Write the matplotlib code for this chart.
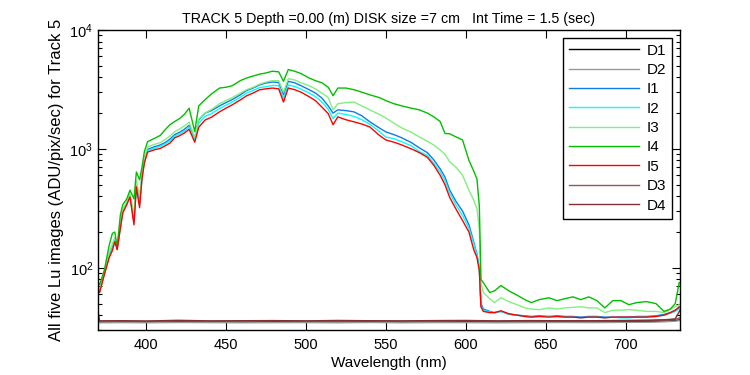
import numpy as np
import matplotlib
matplotlib.use('Agg')
import matplotlib.pyplot as plt

plt.rcParams['font.family'] = ['Liberation Sans', 'DejaVu Sans']
plt.rcParams['font.size'] = 10

# longueurs d'onde (nm) des spectres I1..I5
wl = [370, 371, 374, 377, 379, 380.5, 382, 384, 385.5, 388,
      390, 392.5, 394, 396, 397.5, 399, 401, 405, 409, 412,
      415, 418, 421, 424, 427, 430.5, 433, 437, 441, 446,
      450, 454, 459, 463, 467, 471, 475, 479, 483, 486,
      489, 493, 497, 502, 506, 510, 514, 517, 520, 525,
      530, 535, 540, 546, 550, 555, 560, 566, 571, 576,
      580, 584, 587, 590, 594, 598, 602, 605, 607, 608.5,
      609.5, 611, 615, 618, 622, 627, 632, 637, 641, 646,
      652, 657, 662, 667, 672, 677, 682, 687, 692, 697,
      702, 707, 713, 719, 724, 728, 731, 733.5]

I1 = [68, 64, 90, 128, 148, 172, 146, 225, 300, 350,
      410, 250, 510, 350, 590, 800, 990, 1040, 1080, 1130,
      1210, 1320, 1380, 1460, 1580, 1220, 1750, 2000, 2100, 2300,
      2450, 2600, 2850, 3100, 3250, 3450, 3580, 3650, 3620, 2850,
      3700, 3600, 3400, 3150, 2950, 2680, 2300, 2000, 2130, 2100,
      2050, 1900, 1690, 1500, 1390, 1320, 1240, 1130, 1020, 930,
      810, 680, 580, 450, 360, 300, 230, 165, 130, 100,
      50, 45, 43, 42, 43, 41, 40, 39.5, 39, 39.5,
      39, 39.5, 39, 39, 38.5, 39, 39, 38.5, 38.5, 38.5,
      38.5, 39, 39, 39.5, 40.5, 42, 44, 46]

I2 = [67, 63, 89, 125, 144, 169, 144, 220, 295, 345,
      400, 240, 495, 335, 575, 780, 965, 1010, 1050, 1100,
      1170, 1280, 1340, 1410, 1520, 1180, 1640, 1880, 1980, 2180,
      2330, 2480, 2720, 2950, 3100, 3280, 3330, 3420, 3400, 2650,
      3450, 3350, 3180, 2950, 2750, 2480, 2150, 1800, 2000, 1950,
      1880, 1760, 1610, 1400, 1260, 1220, 1150, 1060, 950, 880,
      760, 640, 540, 425, 335, 275, 215, 160, 128, 98,
      48, 44, 42.5, 42, 43, 40.5, 40, 39, 38.5, 39,
      39, 39, 38.5, 38.5, 38, 38.5, 38.5, 38, 38.5, 38,
      38, 38.5, 38.5, 39, 40, 41.5, 43, 45]

I3 = [70, 66, 92, 135, 160, 180, 150, 240, 310, 360,
      420, 280, 540, 400, 620, 840, 1040, 1090, 1130, 1200,
      1280, 1400, 1470, 1560, 1680, 1250, 1780, 2000, 2150, 2400,
      2550, 2700, 2950, 3150, 3300, 3500, 3650, 3750, 3750, 3000,
      3900, 3800, 3600, 3400, 3200, 2950, 2700, 2130, 2400, 2450,
      2480, 2300, 2130, 1950, 1820, 1650, 1500, 1380, 1260, 1160,
      1080, 980, 900, 780, 700, 600, 450, 370, 315, 210,
      75, 62, 55, 51, 56, 52, 49, 46, 45, 44.5,
      46, 45, 46, 46.5, 47, 46, 46, 42, 44, 44,
      44.5, 44, 43, 43, 42, 45, 47, 49]

I4 = [76, 72, 96, 155, 195, 200, 150, 280, 340, 380,
      450, 380, 640, 550, 700, 950, 1150, 1220, 1300, 1450,
      1600, 1700, 1800, 1950, 2200, 1400, 2300, 2600, 2900, 3250,
      3300, 3400, 3750, 3950, 4100, 4250, 4350, 4500, 4450, 3700,
      4650, 4500, 4300, 3950, 3750, 3600, 3300, 2800, 3250, 3250,
      3150, 3000, 2850, 2700, 2550, 2400, 2300, 2200, 2130, 2000,
      1860, 1700, 1350, 1340, 1260, 1190, 800, 650, 560, 330,
      80, 75, 62, 64, 71, 64, 59, 54, 51, 54,
      56, 53, 55, 57, 54, 57, 53, 46, 53, 53,
      49, 51, 52, 50, 43, 45, 50, 75]

I5 = [66, 62, 88, 122, 140, 166, 142, 215, 290, 340,
      395, 230, 480, 320, 560, 760, 940, 980, 1010, 1060,
      1120, 1240, 1290, 1360, 1460, 1140, 1520, 1750, 1850, 2050,
      2200, 2350, 2580, 2800, 2950, 3140, 3200, 3250, 3200, 2480,
      3250, 3150, 3000, 2750, 2550, 2250, 1980, 1600, 1860, 1760,
      1690, 1620, 1530, 1300, 1190, 1140, 1080, 1000, 930, 850,
      730, 600, 500, 390, 310, 250, 200, 142, 122, 95,
      47, 43, 42, 42, 43.5, 41, 40, 39, 38.5, 39,
      38.5, 39, 38.5, 38.5, 38, 38.5, 38.5, 38, 38.5, 38.5,
      38.5, 38.5, 38.5, 39, 40, 42, 44, 47]

# images de noir D1..D4
dwl = [370, 371, 385, 400, 420, 440, 460, 480, 500, 520, 540, 560,
       580, 600, 620, 640, 660, 680, 700, 715, 725, 731, 734]
D1 = [35.5, 34.8, 35.0, 34.9, 35.1, 35.0, 34.9, 35.1, 35.0, 35.0, 35.1, 34.9,
      35.0, 35.1, 35.0, 35.0, 35.1, 35.0, 35.2, 35.3, 35.6, 36.0, 36.5]
D2 = [35.0, 34.5, 34.6, 34.5, 34.7, 34.6, 34.5, 34.6, 34.6, 34.5, 34.7, 34.5,
      34.6, 34.6, 34.5, 34.6, 34.7, 34.6, 34.8, 34.9, 35.2, 35.6, 36.0]
D3 = [36.5, 35.6, 35.8, 35.5, 35.9, 35.6, 35.7, 35.9, 35.6, 35.7, 35.8, 35.6,
      35.7, 35.9, 35.6, 35.8, 35.7, 35.7, 35.9, 36.0, 36.3, 36.8, 38.0]
D4 = [43.0, 35.8, 35.9, 35.7, 36.2, 35.8, 35.9, 36.0, 35.8, 36.1, 35.9, 35.8,
      36.0, 36.1, 35.8, 36.0, 35.9, 35.9, 36.1, 36.3, 36.6, 37.2, 44.0]

fig = plt.figure(figsize=(7.5, 3.75), dpi=100)
ax = fig.add_axes([98/750, 45/375, 582/750, 300/375])

courbes = [(dwl, D1, 'D1', 'k'),
           (dwl, D2, 'D2', '#999999'),
           (wl, I1, 'I1', '#1478e6'),
           (wl, I2, 'I2', '#00ffff'),
           (wl, I3, 'I3', '#80f080'),
           (wl, I4, 'I4', '#00c000'),
           (wl, I5, 'I5', '#ff0000'),
           (dwl, D3, 'D3', '#8c5a5a'),
           (dwl, D4, 'D4', '#803030')]
for x, y, lab, col in courbes:
    ax.plot(x, y, color=col, lw=1.0, label=lab)

ax.set_yscale('log')
ax.set_xlim(370, 734)
ax.set_ylim(30, 1e4)
ax.set_xticks([400, 450, 500, 550, 600, 650, 700])
ax.tick_params(which='both', direction='in', top=True, right=True, width=0.8)
ax.tick_params(which='major', length=6, labelsize=10.5)
ax.tick_params(axis='x', pad=6)
ax.tick_params(which='minor', length=3)
for s in ax.spines.values():
    s.set_linewidth(1.0)

ax.set_xlabel('Wavelength (nm)', fontsize=11, labelpad=3)
ax.set_ylabel('All five Lu images (ADU/pix/sec) for Track 5', fontsize=12,
              labelpad=4)
ax.set_title('TRACK 5 Depth =0.00 (m) DISK size =7 cm   Int Time = 1.5 (sec)',
             fontsize=10.3, pad=5)

leg = ax.legend(loc='upper right', fontsize=11, handlelength=4.6,
                labelspacing=0.35, fancybox=False, framealpha=1,
                edgecolor='k', borderaxespad=0.5, handletextpad=0.5)
leg.get_frame().set_linewidth(1.0)

plt.savefig('out.png', dpi=100)
